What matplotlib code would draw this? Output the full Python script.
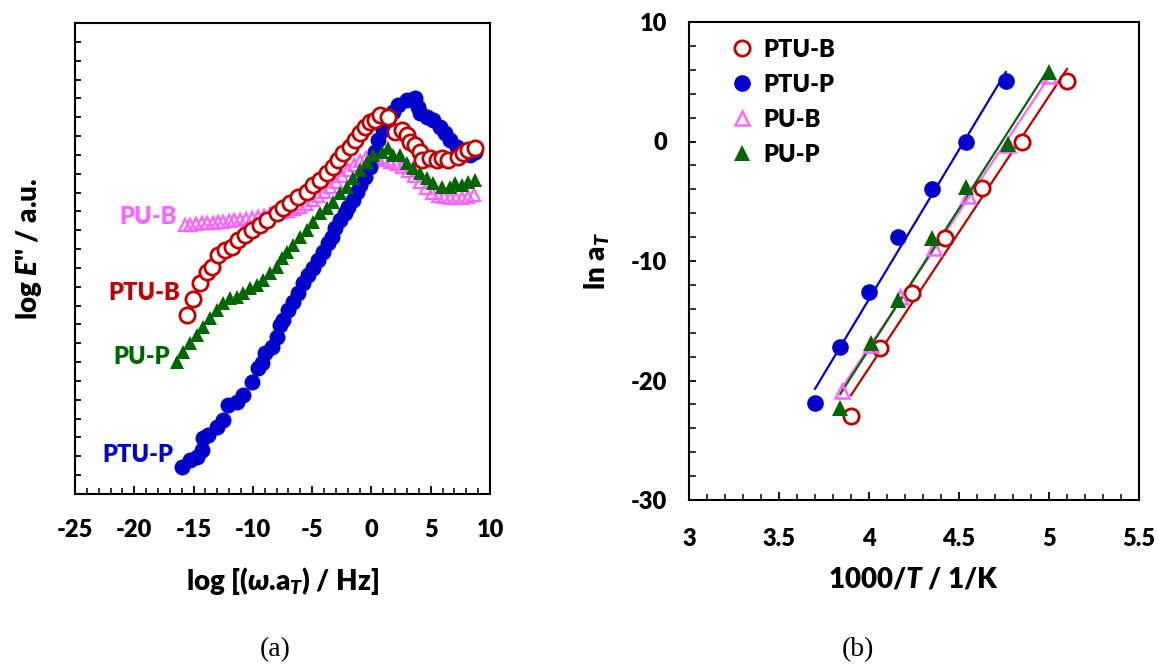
import numpy as np
import matplotlib
matplotlib.use("Agg")
import matplotlib.pyplot as plt
from matplotlib.ticker import MultipleLocator, NullFormatter

plt.rcParams['font.family'] = ['Lato', 'DejaVu Sans']
plt.rcParams['font.weight'] = 'heavy'
plt.rcParams['axes.labelweight'] = 'heavy'
plt.rcParams['axes.unicode_minus'] = False
plt.rcParams['mathtext.fontset'] = 'custom'
plt.rcParams['mathtext.rm'] = 'Lato:heavy'
plt.rcParams['mathtext.it'] = 'Lato:italic:heavy'
plt.rcParams['mathtext.bf'] = 'Lato:heavy'
plt.rcParams['mathtext.fallback'] = 'stixsans'

# ---------------------------------------------------------------------- #
# (a) master curves, log E'' vs log(omega a_T), arbitrary vertical units
# ---------------------------------------------------------------------- #
ptu_p_x = [-16.00, -15.30, -14.74, -14.31, -14.18, -13.76, -13.05, -12.49, -12.07, -11.36,
           -10.81, -10.10, -9.54, -9.25, -8.98, -8.41, -7.99, -7.71, -7.43, -7.01,
           -6.59, -6.17, -5.75, -5.33, -4.90, -4.48, -4.06, -3.64, -3.35, -3.07,
           -2.65, -2.23, -1.95, -1.53, -1.24, -0.96, -0.54, -0.12, 0.30, 0.58,
           1.00, 1.42, 1.84, 2.27, 2.97, 3.67, 3.95, 4.10, 4.66, 5.22,
           5.78, 6.21, 6.63, 7.19, 7.75, 8.31, 8.74]
ptu_p_y = [1.45, 1.80, 1.98, 2.34, 2.97, 3.13, 3.57, 3.93, 4.72, 4.90,
           5.25, 5.96, 6.69, 6.95, 7.48, 7.82, 8.35, 8.97, 9.24, 9.77,
           10.21, 10.65, 11.18, 11.62, 11.98, 12.42, 12.86, 13.31, 13.66, 14.10,
           14.54, 14.90, 15.25, 15.61, 16.05, 16.40, 16.84, 17.37, 18.17, 18.79,
           19.32, 19.85, 20.29, 20.65, 20.91, 21.00, 20.56, 20.21, 20.03, 19.85,
           19.50, 19.14, 18.79, 18.43, 18.17, 17.99, 18.17]

ptu_b_x = [-15.58, -15.02, -14.46, -13.89, -13.47, -12.91, -12.35, -11.78, -11.23, -10.66,
           -10.10, -9.40, -8.83, -7.99, -7.43, -6.87, -6.17, -5.46, -4.90, -4.34,
           -3.77, -3.22, -2.79, -2.37, -1.81, -1.39, -0.96, -0.54, -0.12, 0.30,
           0.72, 1.42, 1.99, 2.55, 2.97, 3.25, 3.67, 4.10, 4.24, 4.94,
           5.50, 5.93, 6.48, 7.33, 7.75, 8.17, 8.74]
ptu_b_y = [9.50, 10.33, 11.18, 11.80, 12.06, 12.69, 12.95, 13.13, 13.48, 13.75,
           14.01, 14.28, 14.54, 14.90, 15.16, 15.43, 15.78, 16.05, 16.40, 16.67,
           17.02, 17.37, 17.73, 18.08, 18.43, 18.79, 19.14, 19.50, 19.76, 19.85,
           20.12, 20.03, 19.23, 19.32, 19.06, 18.70, 18.52, 18.17, 17.73, 17.82,
           17.73, 17.82, 17.73, 17.90, 18.08, 18.26, 18.35]

pu_p_x = [-16.42, -15.87, -15.30, -14.74, -14.18, -13.61, -13.05, -12.49, -11.93, -11.36,
          -10.81, -10.24, -9.68, -9.12, -8.55, -7.99, -7.57, -7.15, -6.59, -6.02,
          -5.46, -4.90, -4.34, -3.77, -3.22, -2.65, -2.09, -1.53, -0.96, -0.40,
          0.16, 0.87, 1.42, 1.84, 2.41, 2.97, 3.53, 4.10, 4.66, 5.22,
          5.93, 6.63, 7.05, 7.61, 8.17, 8.74]
pu_p_y = [7.02, 7.55, 8.00, 8.44, 8.88, 9.33, 9.77, 10.12, 10.39, 10.47,
          10.65, 10.92, 11.09, 11.36, 11.71, 12.06, 12.51, 12.86, 13.22, 13.66,
          14.01, 14.45, 14.90, 15.16, 15.51, 15.96, 16.31, 16.76, 17.20, 17.64,
          17.99, 18.17, 18.35, 17.99, 17.99, 17.55, 17.29, 17.02, 16.76, 16.49,
          16.31, 16.31, 16.49, 16.40, 16.58, 16.67]

pu_b_x = [-15.72, -15.26, -14.80, -14.33, -13.87, -13.40, -12.94, -12.48, -12.01, -11.55,
          -11.08, -10.58, -10.07, -9.57, -9.06, -8.55, -8.05, -7.54, -7.04, -6.53,
          -6.02, -5.52, -5.01, -4.51, -4.00, -3.49, -2.99, -2.48, -1.98, -1.47,
          -0.96, -0.46, 0.05, 0.55, 1.06, 1.57, 2.07, 2.58, 3.08, 3.59,
          4.10, 4.60, 5.11, 5.61, 6.12, 6.63, 7.13, 7.64, 8.14, 8.65]
pu_b_y = [14.28, 14.30, 14.33, 14.36, 14.38, 14.41, 14.44, 14.46, 14.49, 14.52,
          14.54, 14.60, 14.65, 14.70, 14.78, 14.86, 14.92, 14.97, 15.02, 15.13,
          15.23, 15.39, 15.61, 15.82, 16.03, 16.29, 16.56, 16.88, 17.20, 17.46,
          17.68, 17.83, 17.89, 17.83, 17.73, 17.62, 17.52, 17.36, 17.14, 16.88,
          16.56, 16.24, 15.98, 15.82, 15.76, 15.71, 15.71, 15.71, 15.76, 15.87]

# ---------------------------------------------------------------------- #
# (b) shift factors, ln a_T vs 1000/T
# ---------------------------------------------------------------------- #
invT_ptu_b = [3.90, 4.06, 4.24, 4.42, 4.63, 4.85, 5.10]
ln_at_ptu_b = [-23.0, -17.3, -12.7, -8.1, -3.9, 0.0, 5.1]
invT_ptu_p = [3.70, 3.84, 4.00, 4.16, 4.35, 4.54, 4.76]
ln_at_ptu_p = [-21.9, -17.2, -12.6, -8.0, -4.0, 0.0, 5.1]
invT_pu_b = [3.85, 4.01, 4.17, 4.36, 4.55, 4.77, 5.00]
ln_at_pu_b = [-20.9, -17.0, -13.0, -8.9, -4.6, -0.3, 5.5]
invT_pu_p = [3.84, 4.01, 4.16, 4.35, 4.54, 4.77, 5.00]
ln_at_pu_p = [-22.3, -16.9, -13.3, -8.1, -3.8, -0.2, 5.8]

names = ['PTU-B', 'PTU-P', 'PU-B', 'PU-P']
colors = {'PTU-B': '#C00000', 'PTU-P': '#0000CC', 'PU-B': '#FF66FF', 'PU-P': '#006600'}

W, H = 1158, 667
fig = plt.figure(figsize=(W / 100, H / 100), dpi=100)


def px_axes(x0, y0, x1, y1):
    return fig.add_axes([x0 / W, 1 - y1 / H, (x1 - x0) / W, (y1 - y0) / H])


styles_a = dict(PTU_B=dict(marker='o', ms=11, mfc='white', mec=colors['PTU-B'], mew=2.0),
                PTU_P=dict(marker='o', ms=11.5, mfc=colors['PTU-P'], mec=colors['PTU-P'], mew=0),
                PU_B=dict(marker='^', ms=9, mfc='none', mec=colors['PU-B'], mew=1.7),
                PU_P=dict(marker='^', ms=10.5, mfc=colors['PU-P'], mec=colors['PU-P'], mew=0))
styles_b = dict(PTU_B=dict(marker='o', ms=11, mfc='white', mec=colors['PTU-B'], mew=2.0),
                PTU_P=dict(marker='o', ms=12, mfc=colors['PTU-P'], mec=colors['PTU-P'], mew=0),
                PU_B=dict(marker='^', ms=10.5, mfc='none', mec=colors['PU-B'], mew=1.8),
                PU_P=dict(marker='^', ms=11.5, mfc=colors['PU-P'], mec=colors['PU-P'], mew=0))

# ---- panel (a)
ax1 = px_axes(75, 23, 490, 494)
ax1.plot(pu_b_x, pu_b_y, ls='none', **styles_a['PU_B'])
ax1.plot(ptu_p_x, ptu_p_y, ls='none', **styles_a['PTU_P'])
ax1.plot(pu_p_x, pu_p_y, ls='none', **styles_a['PU_P'])
ax1.plot(ptu_b_x, ptu_b_y, ls='none', **styles_a['PTU_B'])

ax1.set_xlim(-25, 10)
ax1.set_ylim(0, 25)
ax1.xaxis.set_major_locator(MultipleLocator(5))
ax1.xaxis.set_minor_locator(MultipleLocator(1))
ax1.yaxis.set_major_locator(MultipleLocator(1))
ax1.yaxis.set_major_formatter(NullFormatter())
ax1.tick_params(axis='x', which='major', direction='in', length=6, width=1.3, labelsize=17, pad=18)
ax1.tick_params(axis='x', which='minor', direction='in', length=4, width=1.1)
ax1.tick_params(axis='y', which='major', direction='in', length=4, width=1.3)

lab_pos = {'PU-B': (-16.4, 14.72), 'PTU-B': (-16.1, 10.65), 'PU-P': (-17.0, 7.29), 'PTU-P': (-16.7, 2.07)}
for nm in names:
    ax1.text(lab_pos[nm][0], lab_pos[nm][1], nm, color=colors[nm], fontsize=17,
             ha='right', va='center')

ax1.set_xlabel(r'log [($\omega$.a$_{T}$) / Hz]', fontsize=20)
ax1.xaxis.set_label_coords(0.5, -0.15)
ax1.set_ylabel(r"log $E$'' / a.u.", fontsize=20)
ax1.yaxis.set_label_coords(-0.075, 0.52)

# ---- panel (b)
ax2 = px_axes(689, 22, 1139, 500)
series_b = [('PTU-B', invT_ptu_b, ln_at_ptu_b, styles_b['PTU_B']),
            ('PTU-P', invT_ptu_p, ln_at_ptu_p, styles_b['PTU_P']),
            ('PU-B', invT_pu_b, ln_at_pu_b, styles_b['PU_B']),
            ('PU-P', invT_pu_p, ln_at_pu_p, styles_b['PU_P'])]
for nm, xs, ys, st in series_b:
    xs = np.asarray(xs)
    k, b = np.polyfit(xs, ys, 1)
    xx = np.array([xs.min(), xs.max()])
    ax2.plot(xx, k * xx + b, color=colors[nm], lw=1.6, zorder=2)
for nm, xs, ys, st in series_b:
    ax2.plot(xs, ys, ls='none', label=nm, zorder=3, **st)

ax2.set_xlim(3, 5.5)
ax2.set_ylim(-30, 10)
ax2.xaxis.set_major_locator(MultipleLocator(0.5))
ax2.xaxis.set_minor_locator(MultipleLocator(0.1))
ax2.yaxis.set_major_locator(MultipleLocator(10))
ax2.yaxis.set_minor_locator(MultipleLocator(2))
ax2.xaxis.set_major_formatter(plt.FuncFormatter(lambda v, p: f'{v:g}'))
ax2.tick_params(axis='x', which='major', direction='in', length=6, width=1.3, labelsize=17, pad=20)
ax2.tick_params(axis='x', which='minor', direction='in', length=4, width=1.1)
ax2.tick_params(axis='y', which='major', direction='in', length=5, width=1.3, labelsize=17, pad=16)
ax2.tick_params(axis='y', which='minor', direction='in', length=5, width=1.1)

ax2.set_xlabel(r'1000/$T$ / 1/K', fontsize=20)
ax2.xaxis.set_label_coords(0.5, -0.14)
ax2.set_ylabel(r'ln a$_{T}$', fontsize=20)
ax2.yaxis.set_label_coords(-0.17, 0.5)

ax2.legend(loc='upper left', bbox_to_anchor=(0.075, 0.985), frameon=False, fontsize=17,
           handlelength=0.8, handletextpad=0.5, labelspacing=0.55, borderaxespad=0)

for ax in (ax1, ax2):
    for sp in ax.spines.values():
        sp.set_linewidth(1.5)

fig.text(275 / W, 1 - 650 / H, '(a)', family='Liberation Serif', fontweight='normal', fontsize=20,
         ha='center', va='center')
fig.text(858 / W, 1 - 650 / H, '(b)', family='Liberation Serif', fontweight='normal', fontsize=20,
         ha='center', va='center')

fig.savefig('out.png', dpi=100)
